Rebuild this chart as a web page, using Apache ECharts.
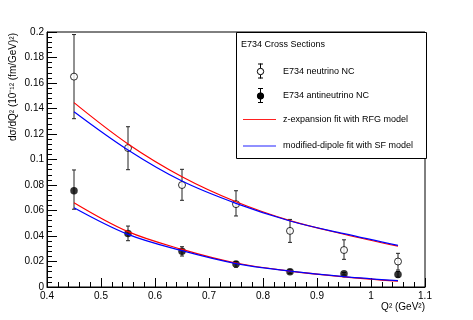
<!DOCTYPE html>
<html>
<head>
<meta charset="utf-8">
<script src="https://cdn.jsdelivr.net/npm/echarts@6/dist/echarts.min.js"></script>
<style>
  html, body { margin: 0; padding: 0; background: #fff; }
  #container { width: 473px; height: 320px; }
</style>
</head>
<body>
<div id="container"></div>
<script>
// Q^2 bins (GeV^2)
const qsq = [0.45, 0.55, 0.65, 0.75, 0.85, 0.95, 1.05];

// E734 neutrino NC
const nuVal = [0.165, 0.109, 0.080, 0.065, 0.044, 0.029, 0.020];
const nuLow = [0.132, 0.092, 0.068, 0.0557, 0.035, 0.0217, 0.0133];
const nuHigh = [0.198, 0.1257, 0.0923, 0.0755, 0.053, 0.037, 0.0264];

// E734 antineutrino NC
const nubVal = [0.0755, 0.042, 0.028, 0.018, 0.012, 0.0104, 0.0099];
const nubLow = [0.061, 0.0363, 0.0243, 0.0155, 0.0105, 0.0094, 0.0077];
const nubHigh = [0.0918, 0.0478, 0.0316, 0.020, 0.0135, 0.0114, 0.0122];

// fit curves
const nuRFG = [0.1446, 0.1122, 0.0865, 0.0669, 0.0521, 0.0414, 0.0320];
const nuSF = [0.1375, 0.1075, 0.0831, 0.0656, 0.0518, 0.0418, 0.0326];
const nubRFG = [0.0661, 0.0434, 0.0295, 0.0188, 0.0124, 0.0080, 0.0045];
const nubSF = [0.0622, 0.0413, 0.0285, 0.0184, 0.0125, 0.0082, 0.0050];

const font = 'Liberation Sans, Arial, sans-serif';

const pairs = (ys) => qsq.map((x, i) => [x, ys[i]]);
const bars = (lo, hi) => qsq.map((x, i) => [x, lo[i], hi[i]]);

function errorBar(params, api) {
  const p0 = api.coord([api.value(0), api.value(1)]);
  const p1 = api.coord([api.value(0), api.value(2)]);
  const w = 2;
  const st = { stroke: '#222', lineWidth: 1 };
  return {
    type: 'group',
    children: [
      { type: 'line', shape: { x1: p0[0], y1: p0[1], x2: p1[0], y2: p1[1] }, style: st },
      { type: 'line', shape: { x1: p0[0] - w, y1: p0[1], x2: p0[0] + w, y2: p0[1] }, style: st },
      { type: 'line', shape: { x1: p1[0] - w, y1: p1[1], x2: p1[0] + w, y2: p1[1] }, style: st }
    ]
  };
}

function curve(data, color) {
  return {
    type: 'line', data: pairs(data), smooth: 0.35, showSymbol: false, z: 5,
    lineStyle: { color: color, width: 1.2 }, silent: true
  };
}

const chart = echarts.init(document.getElementById('container'));

const lg = { x: 236, y: 32, w: 190, h: 126 };
const legendText = (y, t) => ({
  type: 'text', x: 283, y: y, z: 101,
  style: { text: t, font: '9px ' + font, fill: '#000', verticalAlign: 'middle' }
});
const legendBar = (y, filled) => [
  { type: 'line', z: 101, shape: { x1: 260.5, y1: y - 8, x2: 260.5, y2: y + 7 }, style: { stroke: '#000', lineWidth: 1 } },
  { type: 'line', z: 101, shape: { x1: 258, y1: y - 7.5, x2: 263, y2: y - 7.5 }, style: { stroke: '#000', lineWidth: 1 } },
  { type: 'line', z: 101, shape: { x1: 258, y1: y + 6.5, x2: 263, y2: y + 6.5 }, style: { stroke: '#000', lineWidth: 1 } },
  { type: 'circle', z: 102, shape: { cx: 260.5, cy: y, r: 3.2 }, style: { fill: filled ? '#000' : '#fff', stroke: '#000', lineWidth: 1 } }
];

chart.setOption({
  animation: false,
  backgroundColor: '#fff',
  grid: {
    left: 47, right: 48, top: 32, bottom: 33,
    show: true, borderColor: '#000', borderWidth: 1, backgroundColor: 'transparent'
  },
  xAxis: {
    type: 'value', min: 0.4, max: 1.1, interval: 0.1,
    axisLine: { show: true, lineStyle: { color: '#000', width: 1 } },
    axisTick: { inside: true, length: 9, lineStyle: { color: '#000' } },
    minorTick: { show: true, splitNumber: 5, length: 5, lineStyle: { color: '#000' } },
    axisLabel: { color: '#000', fontFamily: font, fontSize: 10, margin: 4 },
    splitLine: { show: false }
  },
  yAxis: {
    type: 'value', min: 0, max: 0.2, interval: 0.02,
    axisLine: { show: true, lineStyle: { color: '#000', width: 1 } },
    axisTick: { inside: true, length: 10, lineStyle: { color: '#000' } },
    minorTick: { show: true, splitNumber: 5, length: 5, lineStyle: { color: '#000' } },
    axisLabel: { color: '#000', fontFamily: font, fontSize: 10, margin: 3 },
    splitLine: { show: false }
  },
  series: [
    { type: 'custom', renderItem: errorBar, data: bars(nuLow, nuHigh), z: 2, silent: true },
    { type: 'custom', renderItem: errorBar, data: bars(nubLow, nubHigh), z: 2, silent: true },
    {
      type: 'scatter', data: pairs(nuVal), symbol: 'circle', symbolSize: 7, z: 3,
      itemStyle: { color: '#fff', borderColor: '#000', borderWidth: 1 }
    },
    {
      type: 'scatter', data: pairs(nubVal), symbol: 'circle', symbolSize: 7.5, z: 3,
      itemStyle: { color: '#000' }
    },
    curve(nuRFG, '#ff0000'),
    curve(nuSF, '#0000ff'),
    curve(nubRFG, '#ff0000'),
    curve(nubSF, '#0000ff')
  ],
  graphic: [
    {
      type: 'text', x: 13, y: 33, rotation: Math.PI / 2, z: 100,
      style: {
        text: 'd\u03c3/dQ\u00b2 (10\u207b\u00b9\u00b2 (fm/GeV)\u00b2)', font: '10px ' + font,
        fill: '#000', align: 'right', verticalAlign: 'middle'
      }
    },
    {
      type: 'text', x: 425, y: 307, z: 100,
      style: { text: 'Q\u00b2 (GeV\u00b2)', font: '10px ' + font, fill: '#000', align: 'right', verticalAlign: 'middle' }
    },
    {
      type: 'rect', z: 100, shape: { x: lg.x + 0.5, y: lg.y + 0.5, width: lg.w, height: lg.h },
      style: { fill: '#fff', stroke: '#000', lineWidth: 1 }
    },
    {
      type: 'text', x: 241, y: 45, z: 101,
      style: { text: 'E734 Cross Sections', font: '9px ' + font, fill: '#000', verticalAlign: 'middle' }
    },
    ...legendBar(71.5, false),
    legendText(71.5, 'E734 neutrino NC'),
    ...legendBar(96, true),
    legendText(96, 'E734 antineutrino NC'),
    {
      type: 'line', z: 101, shape: { x1: 243, y1: 119.5, x2: 276, y2: 119.5 },
      style: { stroke: '#ff2020', lineWidth: 1.2 }
    },
    legendText(119.5, 'z-expansion fit with RFG model'),
    {
      type: 'line', z: 101, shape: { x1: 243, y1: 146, x2: 276, y2: 146 },
      style: { stroke: '#9090ff', lineWidth: 2 }
    },
    legendText(146, 'modified-dipole fit with SF model')
  ]
});
</script>
</body>
</html>
